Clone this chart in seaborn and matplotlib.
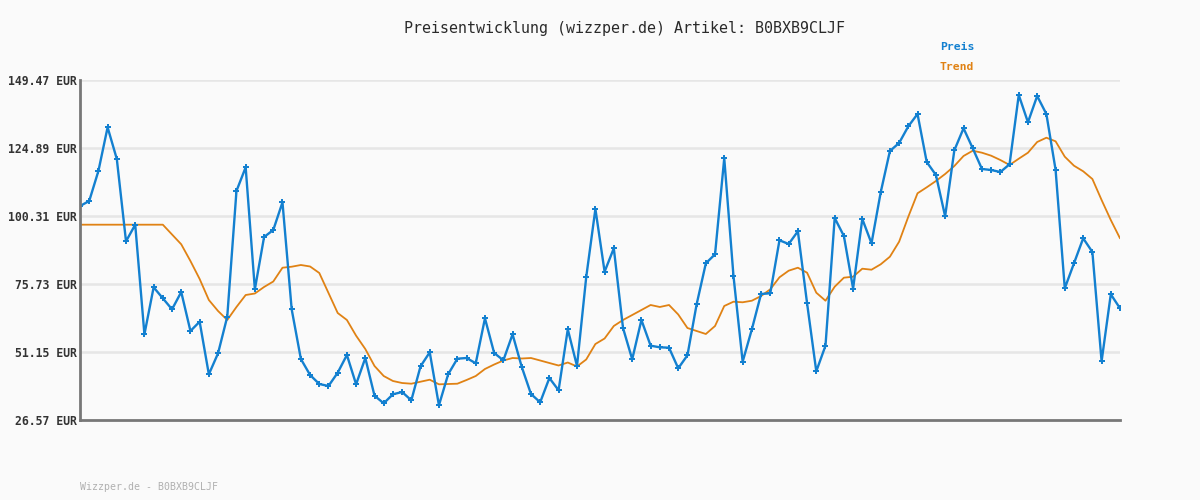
import numpy as np
import pandas as pd
import matplotlib
matplotlib.use("Agg")
import matplotlib.pyplot as plt
import seaborn as sns

# Preisdaten
preis = [103.92, 105.73, 116.58, 132.37, 120.91, 91.16, 97.17, 57.55, 74.54, 70.56,
         66.58, 72.84, 58.74, 62.10, 43.09, 50.68, 63.91, 109.35, 117.91, 73.81,
         92.72, 95.25, 105.26, 66.58, 48.62, 42.84, 39.58, 38.86, 43.67, 50.07,
         39.47, 48.98, 35.35, 32.61, 35.86, 36.69, 33.69, 45.98, 51.04, 31.88,
         43.09, 48.73, 48.98, 47.07, 63.33, 50.79, 48.15, 57.55, 45.73, 35.97,
         32.97, 41.75, 37.31, 59.36, 46.09, 78.15, 102.84, 80.18, 88.63, 59.83,
         48.51, 62.72, 53.43, 52.85, 52.70, 45.26, 49.96, 68.39, 83.21, 86.47,
         121.17, 78.73, 47.64, 59.36, 72.12, 72.37, 91.53, 90.19, 94.78, 68.75,
         44.17, 53.43, 99.59, 93.08, 74.10, 99.23, 90.44, 108.88, 123.81, 126.70,
         132.73, 137.18, 119.83, 115.13, 100.20, 124.06, 132.01, 124.78, 117.30, 116.94,
         116.21, 119.00, 144.05, 134.18, 143.69, 137.18, 117.05, 74.18, 83.21, 92.25,
         87.30, 47.79, 72.01, 66.95]

trend = [97.17] * 10 + [
         93.62, 90.08, 84.04, 77.54, 69.95, 65.97, 62.72, 67.42, 71.75, 72.30,
         74.65, 76.63, 81.62, 81.98, 82.60, 82.06, 79.71, 72.48, 65.25, 62.72,
         57.04, 52.23, 46.09, 42.47, 40.67, 39.94, 39.69, 40.41, 41.14, 39.47,
         39.58, 39.69, 41.03, 42.47, 45.01, 46.63, 48.08, 48.98, 48.80, 48.98,
         48.08, 47.17, 46.27, 47.35, 45.91, 48.44, 54.04, 56.03, 60.55, 62.72,
         64.52, 66.33, 68.14, 67.42, 68.14, 64.71, 59.83, 58.74, 57.66, 60.55,
         67.78, 69.33, 69.12, 69.69, 71.39, 73.81, 78.15, 80.54, 81.62, 79.81,
         72.59, 69.69, 74.75, 78.01, 78.37, 81.26, 80.90, 82.85, 85.60, 91.02,
         100.06, 108.52, 110.68, 112.96, 115.49, 118.38, 122.00, 123.91, 123.19, 122.11,
         120.55, 118.75, 121.02, 123.19, 127.06, 128.61, 127.31, 121.75, 118.49, 116.47,
         113.68, 106.09, 98.86, 92.25]

y_ticks = [26.57, 51.15, 75.73, 100.31, 124.89, 149.47]
y_labels = ["26.57 EUR", "51.15 EUR", "75.73 EUR", "100.31 EUR", "124.89 EUR", "149.47 EUR"]

artikel = "B0BXB9CLJF"
blau = "#1380d0"
orange = "#e08214"
bg = "#fafafa"

df = pd.DataFrame({"idx": np.arange(len(preis)), "preis": preis, "trend": trend})

sns.set_style("white")
plt.rcParams["font.family"] = ["DejaVu Sans Mono", "DejaVu Sans"]

fig = plt.figure(figsize=(12, 5), dpi=100, facecolor=bg)
ax = fig.add_axes([80 / 1200, 80 / 500, 1040 / 1200, 340 / 500])
ax.set_facecolor(bg)

sns.lineplot(data=df, x="idx", y="trend", color=orange, linewidth=1.3, ax=ax, zorder=3)
sns.lineplot(data=df, x="idx", y="preis", color=blau, linewidth=1.7, marker="P",
             markersize=4.5, markeredgewidth=0, ax=ax, zorder=4)

ax.set_xlim(0, len(preis) - 1)
ax.set_ylim(y_ticks[0], y_ticks[-1])
ax.set_yticks(y_ticks)
ax.set_yticklabels(y_labels, fontsize=8.3, fontweight="bold", color="#333333")
ax.tick_params(axis="y", length=0, pad=2)
ax.set_xticks([])
ax.set_xlabel("")
ax.set_ylabel("")
for y in y_ticks[1:]:
    ax.axhline(y, color="#e6e6e6", linewidth=1.8, zorder=1)

for s in ["top", "right"]:
    ax.spines[s].set_visible(False)
for s in ["left", "bottom"]:
    ax.spines[s].set_color("#777777")
    ax.spines[s].set_linewidth(2)
ax.spines["left"].set_zorder(5)

fig.text(624 / 1200, 1 - 28 / 500, f"Preisentwicklung (wizzper.de) Artikel: {artikel}",
         ha="center", va="center", fontsize=10.8, color="#2a2a2a")
fig.text(940 / 1200, 1 - 47 / 500, "Preis", ha="left", va="center",
         fontsize=8.2, fontweight="bold", color=blau)
fig.text(940 / 1200, 1 - 67 / 500, "Trend", ha="left", va="center",
         fontsize=8.2, fontweight="bold", color=orange)
fig.text(80 / 1200, 1 - 487 / 500, f"Wizzper.de - {artikel}", ha="left", va="center",
         fontsize=7.1, color="#b0b0b0")

fig.savefig("out.png", dpi=100, facecolor=bg)
